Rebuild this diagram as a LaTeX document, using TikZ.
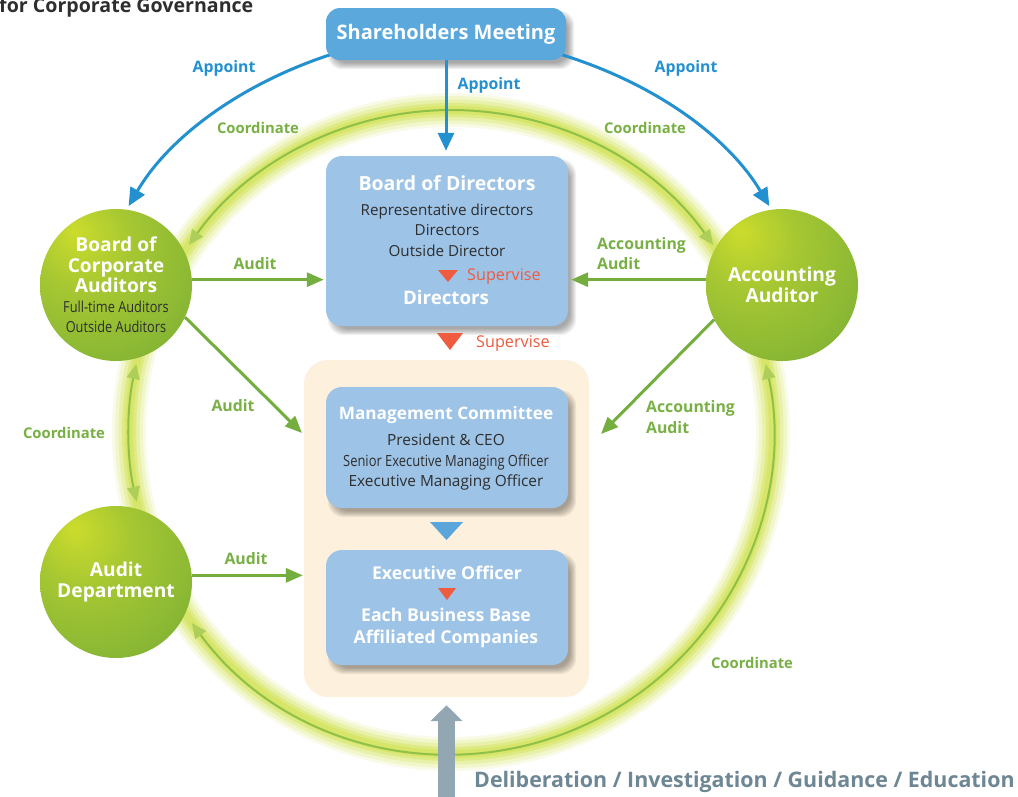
\documentclass[tikz,border=0pt]{standalone}
\usepackage{fontspec}
\setmainfont{Open Sans}
\newfontfamily\condfont[FakeStretch=0.84]{Open Sans}
\usetikzlibrary{arrows.meta,calc}

\definecolor{shmBlue}{HTML}{5BA8DC}
\definecolor{panelBlue}{HTML}{9DC3E6}
\definecolor{appointBlue}{HTML}{2390D0}
\definecolor{auditGreen}{HTML}{74AE3E}
\definecolor{labelGreen}{HTML}{78B044}
\definecolor{superRed}{HTML}{EE5B3F}
\definecolor{creamBg}{HTML}{FDF0DC}
\definecolor{bodyText}{HTML}{2E2E2E}
\definecolor{pillarGray}{HTML}{93A7B2}
\definecolor{pillarInk}{HTML}{6E8794}
\definecolor{glowLime}{HTML}{D0E14A}
\definecolor{ringLine}{HTML}{8FC049}
\definecolor{ringHead}{HTML}{ADCF5A}
\definecolor{flowBlue}{HTML}{5AA6DA}
\definecolor{ballA}{HTML}{CCDC2C}
\definecolor{ballB}{HTML}{A6C732}
\definecolor{ballC}{HTML}{7EB135}
\definecolor{ballD}{HTML}{6AA437}

\pgfdeclareradialshading{greenball}{\pgfpoint{-14bp}{18bp}}{color(0bp)=(ballA); color(16bp)=(ballB); color(42bp)=(ballC); color(75bp)=(ballD)}

\pgfdeclarelayer{back}
\pgfdeclarelayer{links}
\pgfsetlayers{back,links,main}

\tikzset{
  panel/.style={fill=panelBlue, rounded corners=16pt, minimum width=242pt, inner sep=0pt},
  shmbox/.style={fill=shmBlue, rounded corners=14pt, minimum width=240pt, minimum height=52pt, inner sep=0pt, text=white, font=\bfseries\fontsize{20}{24}\selectfont},
  ball/.style={circle, shading=greenball, minimum size=152pt, inner sep=0pt, text=white, align=center, font=\bfseries\fontsize{19.2}{20.5}\selectfont},
  headtext/.style={text=white, font=\bfseries\fontsize{17.7}{22.5}\selectfont, inner sep=0pt},
  bodytext/.style={text=bodyText, font=\fontsize{15.4}{20.5}\selectfont, align=center, inner sep=0pt},
  lbl/.style={font=\bfseries\fontsize{15.8}{20.5}\selectfont, inner sep=0pt},
  greenlbl/.style={lbl, text=labelGreen},
  coordlbl/.style={greenlbl, font=\bfseries\fontsize{14.8}{20}\selectfont},
  bluelbl/.style={lbl, text=appointBlue},
  redlbl/.style={font=\fontsize{16.2}{18}\selectfont, text=superRed, inner sep=0pt},
  appoint/.style={draw=appointBlue, line width=3pt, -{Triangle[length=18pt,width=16pt]}},
  audit/.style={draw=auditGreen, line width=3pt, -{Triangle[length=17pt,width=14pt]}},
  ringline/.style={draw=ringLine, line width=2pt,
    {Triangle[length=15pt,width=13pt,color=ringHead]}-{Triangle[length=15pt,width=13pt,color=ringHead]}},
}

% soft drop shadow under a rounded panel
\newcommand\panelshadow[2]{%
  \foreach \k in {-3,...,3}{%
    \pgfmathsetmacro\shA{5-\k}%
    \pgfmathsetmacro\shB{-6+\k}%
    \pgfmathsetmacro\shC{5+\k}%
    \pgfmathsetmacro\shD{-6-\k}%
    \fill[black, opacity=0.055, rounded corners=#2]
      ([shift={(\shA,\shB)}]#1.north west) rectangle ([shift={(\shC,\shD)}]#1.south east);
  }%
}

\begin{document}
\begin{tikzpicture}[x=1pt,y=1pt]
\useasboundingbox (0,0) rectangle (1018,-796);

% ---- boxes and circles ----
\node[shmbox] (shm) at (446,-34) {Shareholders Meeting};
\node[panel, minimum height=170pt] (bod) at (447,-241) {};
\node[panel, minimum height=121pt] (mgmt) at (447,-447.5) {};
\node[panel, minimum height=115pt] (exec) at (447,-607.5) {};

\node[ball] (boca) at (116,-285) {Board of\\Corporate\\Auditors\\[-1pt]
  {\condfont\mdseries\color{bodyText}\fontsize{15.2}{21}\selectfont Full-time Auditors}\\
  {\condfont\mdseries\color{bodyText}\fontsize{15.2}{21}\selectfont Outside Auditors}};
\node[ball] (audd) at (116,-582) {Audit\\Department};
\node[ball] (acca) at (782,-285) {Accounting\\Auditor};

% ---- texts inside the panels ----
\node[headtext, font=\bfseries\fontsize{19.5}{22}\selectfont] (bodTitle) at (447,-183) {Board of Directors};
\node[bodytext, font=\fontsize{15.2}{20.5}\selectfont] (bodMembers) at (447,-230) {Representative directors\\Directors\\Outside Director};
\fill[superRed] (438,-270) -- (458,-270) -- (448,-282) -- cycle;
\node[redlbl, anchor=west] (supInner) at (467,-276) {Supervise};
\node[headtext, font=\bfseries\fontsize{18.7}{22}\selectfont] (bodDirectors) at (446,-297) {Directors};

\fill[superRed] (437,-333) -- (463,-333) -- (450,-350) -- cycle;
\node[redlbl, anchor=west] (supOuter) at (476,-343) {Supervise};

\node[headtext, font=\bfseries\fontsize{17.2}{22}\selectfont] (mgmtTitle) at (446,-415) {Management Committee};
\node[bodytext] (mgmtMembers) at (446,-462) {President \& CEO\\{\condfont Senior Executive Managing Officer}\\Executive Managing Officer};

\fill[flowBlue] (430,-522) -- (463,-522) -- (446.5,-540) -- cycle;

\node[headtext] (execTitle) at (447,-573) {Executive Officer};
\fill[superRed] (438,-588) -- (456,-588) -- (447,-600) -- cycle;
\node[headtext, align=center] (execUnits) at (446,-628) {Each Business Base\\Affiliated Companies};

% ---- connector labels ----
\node[bluelbl] (apL) at (224,-68) {Appoint};
\node[bluelbl] (apC) at (489,-85) {Appoint};
\node[bluelbl] (apR) at (686,-68) {Appoint};
\node[coordlbl] (coTL) at (258,-128) {Coordinate};
\node[coordlbl] (coTR) at (645,-128) {Coordinate};
\node[coordlbl] (coL) at (64,-433) {Coordinate};
\node[coordlbl] (coBR) at (752,-663) {Coordinate};
\node[greenlbl] (auA) at (255,-264) {Audit};
\node[greenlbl] (auB) at (233,-406) {Audit};
\node[greenlbl] (auC) at (246,-559) {Audit};
\node[greenlbl, align=left, anchor=west] (acA) at (597,-253.5) {Accounting\\Audit};
\node[greenlbl, align=left, anchor=west] (acB) at (646,-417) {Accounting\\Audit};

\node[font=\bfseries\fontsize{19.6}{22}\selectfont, text=bodyText, anchor=base west, inner sep=0pt] (govTitle) at (-1,-12.5) {for Corporate Governance};
\node[font=\bfseries\fontsize{21.4}{24}\selectfont, text=pillarInk, anchor=west, inner sep=0pt] (pillarLabel) at (474,-782) {Deliberation / Investigation / Guidance / Education};

\coordinate (ringC) at (451,-432);
\coordinate (auditMgmt) at (302,-433);
\coordinate (acctMgmt) at (601,-434);
\coordinate (pillarFoot) at (446.5,-805);

% ---- background: white page, cream frame, glowing ring, shadows ----
\begin{pgfonlayer}{back}
  \fill[white] (0,0) rectangle (1018,-796);
  \node[fill=creamBg, rounded corners=24pt, minimum width=285pt, minimum height=337pt, inner sep=0pt] (cream) at (446.5,-528.5) {};
  \foreach \w/\o in {34/0.12, 28/0.18, 21/0.26, 14/0.38, 8/0.45}
    \draw[glowLime, line width=\w pt, opacity=\o] (ringC) circle[radius=322];
  \panelshadow{shm}{14pt}
  \panelshadow{bod}{16pt}
  \panelshadow{mgmt}{16pt}
  \panelshadow{exec}{16pt}
\end{pgfonlayer}

% ---- connectors ----
\begin{pgfonlayer}{links}
  \draw[ringline] ($(ringC)+(35.5:322)$) arc[start angle=35.5, end angle=144.5, radius=322];
  \draw[ringline] ($(ringC)+(167.8:322)$) arc[start angle=167.8, end angle=192.5, radius=322];
  \draw[ringline] ($(ringC)+(216.4:322)$) arc[start angle=216.4, end angle=372.2, radius=322];

  \draw[appoint, shorten >=4pt] ([shift={(6,6)}]shm.south west) .. controls (237,-85) and (167,-140) .. (boca.82);
  \draw[appoint, shorten >=4pt] ([shift={(-6,6)}]shm.south east) .. controls (660,-85) and (730,-140) .. (acca.98);
  \draw[appoint, shorten >=5pt] (shm.south) -- (shm.south |- bod.north);

  \draw[audit, shorten >=2pt] (boca.4) -- (boca.4 -| bod.west);
  \draw[audit] (boca.-25.6) -- (auditMgmt);
  \draw[audit, shorten >=1pt] (audd.5) -- (audd.5 -| cream.west);
  \draw[audit, shorten >=3pt] (acca.176) -- (acca.176 -| bod.east);
  \draw[audit] (acca.207.6) -- (acctMgmt);

  \draw[line width=17pt, pillarGray, -{Triangle[length=16pt,width=31pt]}, shorten >=8pt] (pillarFoot) -- (cream.south);
\end{pgfonlayer}
\end{tikzpicture}
\end{document}
